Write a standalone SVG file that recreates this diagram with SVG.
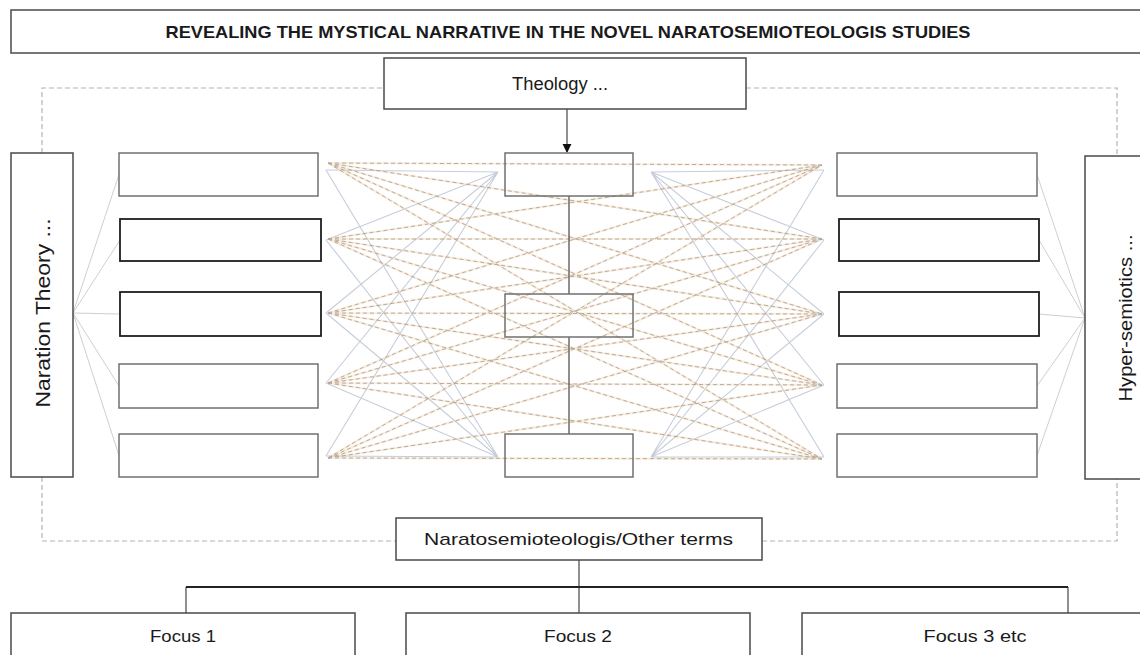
<svg xmlns="http://www.w3.org/2000/svg" width="1140" height="655" viewBox="0 0 1140 655">
  <style>
    .box { fill: #ffffff; stroke: #707070; stroke-width: 1.5; }
    .box-dark { fill: #ffffff; stroke: #1e1e1e; stroke-width: 1.8; }
    .box-open { fill: none; stroke: #707070; stroke-width: 1.5; }
    .box-frame { fill: #ffffff; stroke: #4a4a4a; stroke-width: 1.5; }
    .lbl { font-family: "Liberation Sans", Arial, sans-serif; fill: #1a1a1a; }
    .frame { fill: none; stroke: #b3b3b3; stroke-width: 1.2; stroke-dasharray: 5 3; }
    .fan { fill: none; stroke: #cfcfcf; stroke-width: 1; }
    .web-halo { fill: none; stroke: #f0c592; stroke-width: 2.2; opacity: 0.3; }
    .web-dash { fill: none; stroke: #a0978c; stroke-width: 1; stroke-dasharray: 4 3; opacity: 0.75; }
    .cross { fill: none; stroke: #c6cedb; stroke-width: 1.1; }
    .link { fill: none; stroke: #555555; stroke-width: 1.3; }
    .bar { fill: none; stroke: #222222; stroke-width: 2; }
  </style>
  <defs>
    <marker id="arrow" viewBox="0 0 10 10" refX="9" refY="5" markerWidth="7" markerHeight="7" orient="auto">
      <path d="M0,0 L10,5 L0,10 z" fill="#111111"/>
    </marker>
    <!-- full web between left and right column anchor points -->
    <g id="web">
      <path d="M328,163 L822,165 M328,163 L822,239 M328,163 L822,314 M328,163 L822,385 M328,163 L822,459"/>
      <path d="M328,239 L822,165 M328,239 L822,239 M328,239 L822,314 M328,239 L822,385 M328,239 L822,459"/>
      <path d="M328,313 L822,165 M328,313 L822,239 M328,313 L822,314 M328,313 L822,385 M328,313 L822,459"/>
      <path d="M328,383 L822,165 M328,383 L822,239 M328,383 L822,314 M328,383 L822,385 M328,383 L822,459"/>
      <path d="M328,458 L822,165 M328,458 L822,239 M328,458 L822,314 M328,458 L822,385 M328,458 L822,459"/>
    </g>
  </defs>

  <!-- connectors -->
  <g id="connectors">
    <!-- dashed outer frame -->
    <path class="frame" d="M42,153 L42,88 L384,88 M746,88 L1117,88 L1117,156"/>
    <path class="frame" d="M42,477 L42,541 L396,541 M762,541 L1117,541 L1117,479"/>

    <!-- fans from the side boxes -->
    <path class="fan" d="M73,313 L119,174.5 M73,313 L120,240 M73,313 L120,314 M73,313 L119,386 M73,313 L119,455.5"/>
    <path class="fan" d="M1085,318 L1037,174.5 M1085,318 L1039,240 M1085,318 L1039,314 M1085,318 L1037,386 M1085,318 L1037,455.5"/>

    <!-- light crossing lines -->
    <path class="cross" d="M326,170 L498,172 M326,240 L498,172 M326,313 L498,172 M326,383 L498,172 M326,456 L498,172"/>
    <path class="cross" d="M326,170 L498,457 M326,240 L498,457 M326,313 L498,457 M326,383 L498,457 M326,456 L498,457"/>
    <path class="cross" d="M824,170 L651,172 M824,240 L651,172 M824,314 L651,172 M824,385 L651,172 M824,457 L651,172"/>
    <path class="cross" d="M824,170 L651,457 M824,240 L651,457 M824,314 L651,457 M824,385 L651,457 M824,457 L651,457"/>

    <!-- dashed web -->
    <use href="#web" class="web-halo"/>
    <use href="#web" class="web-dash"/>

    <!-- centre column links -->
    <path class="link" d="M567,109 L567,152" stroke="#111111" marker-end="url(#arrow)"/>
    <path class="link" d="M569,196 L569,294 M569,337 L569,434"/>

    <!-- tree to focus boxes -->
    <path class="link" d="M579,560 L579,613 M186,587 L186,613 M1068,587 L1068,613"/>
    <path class="bar" d="M186,587 L1068,587"/>
  </g>

  <!-- title -->
  <g id="title">
    <rect class="box-frame" x="11" y="10" width="1140" height="43"/>
    <text class="lbl" x="568" y="37.5" font-size="17" font-weight="bold" text-anchor="middle" textLength="805" lengthAdjust="spacingAndGlyphs">REVEALING THE MYSTICAL NARRATIVE IN THE NOVEL NARATOSEMIOTEOLOGIS STUDIES</text>
  </g>

  <g id="theology">
    <rect class="box-frame" x="384" y="58" width="362" height="51"/>
    <text class="lbl" x="560" y="90" font-size="18" text-anchor="middle" textLength="96" lengthAdjust="spacingAndGlyphs">Theology ...</text>
  </g>

  <g id="naration-theory">
    <rect class="box-frame" x="11" y="153" width="62" height="324"/>
    <text class="lbl" x="0" y="0" font-size="21" text-anchor="middle" textLength="189" lengthAdjust="spacingAndGlyphs" transform="translate(50,313) rotate(-90)">Naration Theory ...</text>
  </g>

  <g id="hyper-semiotics">
    <rect class="box-frame" x="1085" y="156" width="70" height="323"/>
    <text class="lbl" x="0" y="0" font-size="18" text-anchor="middle" textLength="167" lengthAdjust="spacingAndGlyphs" transform="translate(1132,318) rotate(-90)">Hyper-semiotics ...</text>
  </g>

  <!-- left column -->
  <g id="left-1"><rect class="box" x="119" y="153" width="199" height="43"/></g>
  <g id="left-2"><rect class="box-dark" x="120" y="219" width="201" height="42"/></g>
  <g id="left-3"><rect class="box-dark" x="120" y="292" width="201" height="44"/></g>
  <g id="left-4"><rect class="box" x="119" y="364" width="199" height="44"/></g>
  <g id="left-5"><rect class="box" x="119" y="434" width="199" height="43"/></g>

  <!-- centre column -->
  <g id="centre-1"><rect class="box-open" x="505" y="153" width="128" height="43"/></g>
  <g id="centre-2"><rect class="box-open" x="505" y="294" width="128" height="43"/></g>
  <g id="centre-3"><rect class="box-open" x="505" y="434" width="128" height="43"/></g>

  <!-- right column -->
  <g id="right-1"><rect class="box" x="837" y="153" width="200" height="43"/></g>
  <g id="right-2"><rect class="box-dark" x="839" y="219" width="200" height="42"/></g>
  <g id="right-3"><rect class="box-dark" x="839" y="292" width="200" height="44"/></g>
  <g id="right-4"><rect class="box" x="837" y="364" width="200" height="44"/></g>
  <g id="right-5"><rect class="box" x="837" y="434" width="200" height="43"/></g>

  <g id="naratosemioteologis">
    <rect class="box-frame" x="396" y="518" width="366" height="42"/>
    <text class="lbl" x="578.5" y="545" font-size="17" text-anchor="middle" textLength="309" lengthAdjust="spacingAndGlyphs">Naratosemioteologis/Other terms</text>
  </g>

  <g id="focus-1">
    <rect class="box-frame" x="11" y="613" width="344" height="60"/>
    <text class="lbl" x="183" y="642" font-size="17" text-anchor="middle" textLength="66" lengthAdjust="spacingAndGlyphs">Focus 1</text>
  </g>
  <g id="focus-2">
    <rect class="box-frame" x="406" y="613" width="344" height="60"/>
    <text class="lbl" x="578" y="642" font-size="17" text-anchor="middle" textLength="68" lengthAdjust="spacingAndGlyphs">Focus 2</text>
  </g>
  <g id="focus-3">
    <rect class="box-frame" x="802" y="613" width="350" height="60"/>
    <text class="lbl" x="975" y="642" font-size="17" text-anchor="middle" textLength="103" lengthAdjust="spacingAndGlyphs">Focus 3 etc</text>
  </g>
</svg>
